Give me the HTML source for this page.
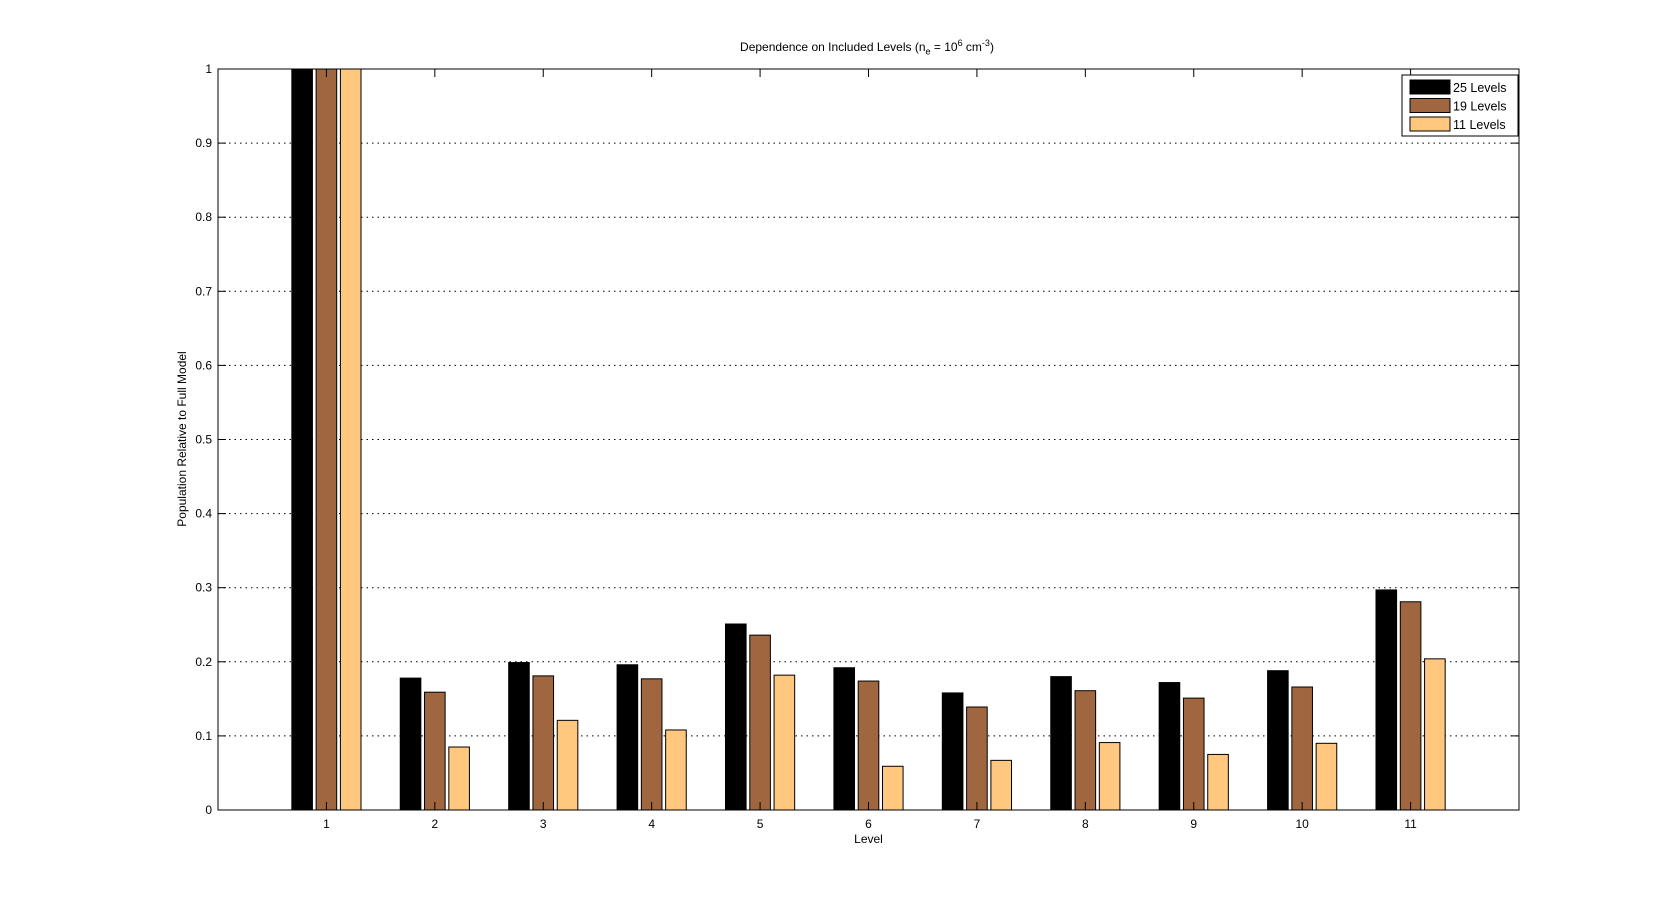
<!DOCTYPE html>
<html><head><meta charset="utf-8"><style>body{margin:0;background:#fff}svg text{font-family:"Liberation Sans",sans-serif;fill:#000}</style></head>
<body>
<svg id="chart" width="1680" height="910" xmlns="http://www.w3.org/2000/svg"></svg>
<script>
const categories=[1,2,3,4,5,6,7,8,9,10,11];
const series25=[1,0.178,0.199,0.196,0.251,0.192,0.158,0.180,0.172,0.188,0.297];
const series19=[1,0.159,0.181,0.177,0.236,0.174,0.139,0.161,0.151,0.166,0.281];
const series11=[1,0.085,0.121,0.108,0.182,0.059,0.067,0.091,0.075,0.090,0.204];
const yTicks=[0,0.1,0.2,0.3,0.4,0.5,0.6,0.7,0.8,0.9,1];
const yTickLabels=["0","0.1","0.2","0.3","0.4","0.5","0.6","0.7","0.8","0.9","1"];
const seriesNames=["25 Levels","19 Levels","11 Levels"];
const L=218,R=1519,T=69,B=810;
const xs=v=>L+(v/12)*(R-L);
const ys=v=>B-v*(B-T);
const svg=document.getElementById('chart');
const NS='http://www.w3.org/2000/svg';
function mk(tag,attrs,parent){const e=document.createElementNS(NS,tag);for(const k in attrs)e.setAttribute(k,attrs[k]);(parent||svg).appendChild(e);return e;}
yTicks.forEach((t,i)=>{
  if(t>0&&t<1){const g=mk('line',{x1:L,x2:R,y1:ys(t),y2:ys(t),stroke:'#000','stroke-dasharray':'1.5,4','stroke-width':1});
  
  }
  const tk=mk('line',{x1:L,x2:L+8,y1:ys(t),y2:ys(t),stroke:'#000'});
  
  
  const tk2=mk('line',{x1:R-8,x2:R,y1:ys(t),y2:ys(t),stroke:'#000'});
  
  
  const tx=mk('text',{x:L-6,y:ys(t)+4,'text-anchor':'end','font-size':12});
  tx.textContent=yTickLabels[i];
  
  
});
const colors=['#000000','#A0663F','#FFC87E'];
const allSeries=[series25,series19,series11];
const off=0.224,bw=0.19;
categories.forEach((c,i)=>{
  allSeries.forEach((s,j)=>{
    const cx=c+(j-1)*off;
    const r=mk('rect',{x:xs(cx-bw/2),y:ys(s[i]),width:xs(bw)-xs(0),height:ys(0)-ys(s[i]),fill:colors[j],stroke:'#000','stroke-width':1});
    
    
  });
  const tk=mk('line',{x1:xs(c),x2:xs(c),y1:B,y2:B-8,stroke:'#000'});
  
  
  const tk2=mk('line',{x1:xs(c),x2:xs(c),y1:T,y2:T+8,stroke:'#000'});
  
  
  const tx=mk('text',{x:xs(c),y:B+18,'text-anchor':'middle','font-size':12});
  tx.textContent=String(c);
  
  
});
const box=mk('rect',{x:L,y:T,width:R-L,height:B-T,fill:'none',stroke:'#000'});


const lg=mk('g',{});


mk('rect',{x:1402,y:75,width:116,height:61,fill:'#fff',stroke:'#000'},lg);
seriesNames.forEach((n,j)=>{
  const y=80+j*18.5;
  const sw=mk('rect',{x:1410,y:y,width:40,height:14,fill:colors[j],stroke:'#000'},lg);
  
  
  const t=mk('text',{x:1453,y:y+12,'font-size':12.5},lg);
  t.textContent=n;
  
  
});
</script>
<div style="position:absolute;left:0;width:1734px;top:38px;text-align:center;font:12px 'Liberation Sans',sans-serif">Dependence on Included Levels (n<sub style="font-size:9px">e</sub> = 10<sup style="font-size:9px">6</sup> cm<sup style="font-size:9px">-3</sup>)</div>
<div style="position:absolute;left:0;width:1737px;top:832px;text-align:center;font:12px 'Liberation Sans',sans-serif">Level</div>
<div style="position:absolute;left:182px;top:439px;transform:translate(-50%,-50%) rotate(-90deg);white-space:nowrap;font:12px 'Liberation Sans',sans-serif">Population Relative to Full Model</div>
</body></html>
